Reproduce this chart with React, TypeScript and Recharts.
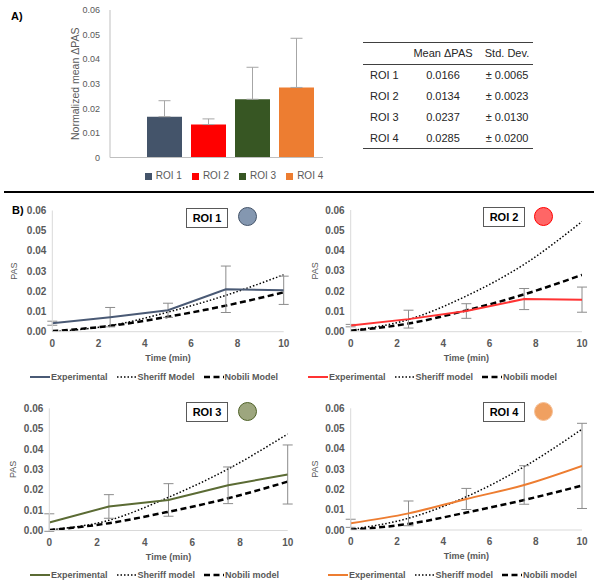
import React from 'react';
import {Bar, BarChart, ErrorBar, Legend, Line, LineChart, XAxis, YAxis} from 'recharts';

const FONT = '"Liberation Sans", Arial, sans-serif';

// panel A
const roiNames = ['ROI 1', 'ROI 2', 'ROI 3', 'ROI 4'];
const meanPas = [0.0166, 0.0134, 0.0237, 0.0285];
const stdDev = [0.0065, 0.0023, 0.0130, 0.0200];
const barTicks = [0, 0.01, 0.02, 0.03, 0.04, 0.05, 0.06];

// panel B
const times = [0, 2.5, 5, 7.5, 10];
const timeTicks = [0, 2, 4, 6, 8, 10];

const roi1Exp = [0.0042, 0.0072, 0.0106, 0.0210, 0.0205];
const roi1Err = [0.0010, 0.0048, 0.0035, 0.0115, 0.0070];
const roi1Sheriff = [0.0000, 0.0030, 0.0097, 0.0180, 0.0282];
const roi1Nobili = [0.0003, 0.0029, 0.0074, 0.0129, 0.0195];

const roi2Exp = [0.0030, 0.0062, 0.0102, 0.0161, 0.0158];
const roi2Err = [0.0006, 0.0044, 0.0036, 0.0052, 0.0062];
const roi2Sheriff = [0.0005, 0.0060, 0.0176, 0.0332, 0.0543];
const roi2Nobili = [0.0005, 0.0040, 0.0105, 0.0184, 0.0280];

const roi3Exp = [0.0039, 0.0118, 0.0150, 0.0222, 0.0275];
const roi3Err = [0.0043, 0.0058, 0.0080, 0.0090, 0.0145];
const roi3Sheriff = [0.0003, 0.0050, 0.0163, 0.0302, 0.0474];
const roi3Nobili = [0.0002, 0.0036, 0.0092, 0.0158, 0.0240];

const roi4Exp = [0.0033, 0.0082, 0.0153, 0.0222, 0.0316];
const roi4Err = [0.0020, 0.0061, 0.0052, 0.0095, 0.0210];
const roi4Sheriff = [0.0003, 0.0058, 0.0164, 0.0312, 0.0497];
const roi4Nobili = [0.0002, 0.0030, 0.0086, 0.0148, 0.0219];

const barColors = ['#44546A', '#FF0000', '#375623', '#ED7D31'];

const barRow: any = {name: ''};
roiNames.forEach((n, i) => {
	barRow['r' + i] = meanPas[i];
	barRow['e' + i] = [0, stdDev[i]];
});

const makeRows = (exp: number[], err: number[], sh: number[], nb: number[]) =>
	times.map((t, i) => ({t, exp: exp[i], err: err[i], sheriff: sh[i], nobili: nb[i]}));

const panels = [
	{
		title: 'ROI 1', rows: makeRows(roi1Exp, roi1Err, roi1Sheriff, roi1Nobili),
		color: '#4A5A75', circleFill: '#8497B0', circleStroke: '#44546A', expCurve: 'linear',
		names: ['Experimental', 'Sheriff Model', 'Nobili Model'],
		left: 0, top: 193, yw: 52.3, mr: 16.3, mt: 17.5, mb: 26.3, pas: 14, legendLeft: 30,
		box: {left: 186, top: 208}, circle: {x: 247.7, y: 217.3},
	},
	{
		title: 'ROI 2', rows: makeRows(roi2Exp, roi2Err, roi2Sheriff, roi2Nobili),
		color: '#FF3333', circleFill: '#FF6666', circleStroke: '#FF0000', expCurve: 'linear',
		names: ['Experimental', 'Sheriff model', 'Nobili model'],
		left: 300, top: 193, yw: 50.7, mr: 18, mt: 17, mb: 26.3, pas: 15, legendLeft: 8,
		box: {left: 483, top: 207}, circle: {x: 544, y: 216.7},
	},
	{
		title: 'ROI 3', rows: makeRows(roi3Exp, roi3Err, roi3Sheriff, roi3Nobili),
		color: '#5B6B34', circleFill: '#9DA67E', circleStroke: '#4F6228', expCurve: 'linear',
		names: ['Experimental', 'Sheriff model', 'Nobili model'],
		left: 0, top: 391, yw: 49.3, mr: 12.3, mt: 17.3, mb: 25.5, pas: 12.7, legendLeft: 30,
		box: {left: 186, top: 402}, circle: {x: 247.7, y: 412},
	},
	{
		title: 'ROI 4', rows: makeRows(roi4Exp, roi4Err, roi4Sheriff, roi4Nobili),
		color: '#ED7D31', circleFill: '#F0A060', circleStroke: '#F6C199', expCurve: 'monotone',
		names: ['Experimental', 'Sheriff model', 'Nobili model'],
		left: 300, top: 391, yw: 50.7, mr: 18, mt: 17.3, mb: 26, pas: 15, legendLeft: 28,
		box: {left: 483, top: 402}, circle: {x: 544.3, y: 412},
	},
];

const tickStyle = {fill: '#595959', fontSize: 10, fontWeight: 700, fontFamily: FONT};

const RoiPanel = ({p}: {p: any}) => {
	const styles: any = {
		exp: {stroke: p.color, width: 2, dash: undefined},
		sheriff: {stroke: '#000', width: 1.5, dash: '1.5 2'},
		nobili: {stroke: '#000', width: 2.5, dash: '6 3.5'},
	};
	const order = ['exp', 'sheriff', 'nobili'];
	const legendContent = (props: any) => {
		const payload = props.payload || [];
		const items = order.map((k) => payload.find((e: any) => e.dataKey === k)).filter(Boolean);
		return (
			<div style={{display: 'flex', alignItems: 'center', gap: 9, fontFamily: FONT, fontSize: 9, fontWeight: 700, color: '#595959', whiteSpace: 'nowrap'}}>
				{items.map((e: any) => {
					const s = styles[e.dataKey];
					return (
						<span key={e.dataKey} style={{display: 'flex', alignItems: 'center'}}>
							<svg width={20} height={8}>
								<line x1={0} y1={4} x2={20} y2={4} stroke={s.stroke} strokeWidth={s.width} strokeDasharray={s.dash}/>
							</svg>
							<span style={{marginLeft: 1}}>{e.value}</span>
						</span>
					);
				})}
			</div>
		);
	};
	return (
		<div style={{position: 'absolute', left: p.left, top: p.top}}>
			<LineChart width={300} height={195} data={p.rows} margin={{top: p.mt, right: p.mr, bottom: p.mb, left: 0}}>
				<XAxis dataKey="t" type="number" domain={[0, 10]} ticks={timeTicks} allowDataOverflow
				       height={30} tickLine={false} axisLine={{stroke: '#D9D9D9'}} tick={tickStyle}
				       label={{value: 'Time (min)', position: 'insideBottom', offset: 1, fill: '#595959', fontSize: 9, fontWeight: 700, fontFamily: FONT}}/>
				<YAxis type="number" domain={[0, 0.06]} ticks={barTicks} allowDataOverflow width={p.yw}
				       tickLine={false} tickMargin={0} axisLine={{stroke: '#D9D9D9'}} tick={tickStyle}
				       tickFormatter={(v: number) => v.toFixed(2)}
				       label={{value: 'PAS', angle: -90, position: 'insideLeft', offset: p.pas, fill: '#595959', fontSize: 9, fontFamily: FONT, style: {textAnchor: 'middle'}}}/>
				<Line dataKey="nobili" name={p.names[2]} type="monotone" stroke="#000" strokeWidth={2.5} strokeDasharray="6 3.5" dot={false} isAnimationActive={false}/>
				<Line dataKey="sheriff" name={p.names[1]} type="monotone" stroke="#000" strokeWidth={1.5} strokeDasharray="1.5 2" dot={false} isAnimationActive={false}/>
				<Line dataKey="exp" name={p.names[0]} type={p.expCurve} stroke={p.color} strokeWidth={2} dot={false} isAnimationActive={false}>
					<ErrorBar dataKey="err" width={5} stroke="#8C8C8C" strokeWidth={1} direction="y"/>
				</Line>
				<Legend verticalAlign="middle" align="center" layout="horizontal" content={legendContent}
				        wrapperStyle={{top: 179, left: p.legendLeft, width: 'auto'}}/>
			</LineChart>
			<div style={{
				position: 'absolute', left: p.box.left - p.left, top: p.box.top - p.top, width: 40, height: 18,
				border: '1px solid #595959', background: '#fff', fontFamily: FONT, fontSize: 11, fontWeight: 700,
				color: '#000', display: 'flex', alignItems: 'center', justifyContent: 'center',
			}}>{p.title}</div>
			<div style={{
				position: 'absolute', left: p.circle.x - p.left - 10, top: p.circle.y - p.top - 10, width: 17, height: 17,
				borderRadius: '50%', background: p.circleFill, border: `1.5px solid ${p.circleStroke}`,
			}}/>
		</div>
	);
};

const cell = {padding: 0, height: 20.8, fontSize: 11, color: '#262626'};

export default function App() {
	return (
		<div style={{position: 'absolute', left: 0, top: 0, width: 600, height: 588, background: '#fff', fontFamily: FONT}}>
			<div style={{position: 'absolute', left: 11, top: 10, fontSize: 11, fontWeight: 700}}>A)</div>
			<div style={{position: 'absolute', left: 0, top: 0}}>
				<BarChart width={340} height={190} data={[barRow]} barGap={9} margin={{top: 10, right: 17, bottom: 31.5, left: 0}}>
					<XAxis dataKey="name" height={1} tick={false} tickLine={false} axisLine={{stroke: '#BFBFBF'}} padding={{left: 28, right: 0}}/>
					<YAxis type="number" domain={[0, 0.06]} ticks={barTicks} width={110} tickLine={false} tickMargin={4}
					       axisLine={{stroke: '#BFBFBF'}} tick={{fill: '#595959', fontSize: 9, fontFamily: FONT}}
					       tickFormatter={(v: number) => (v === 0 ? '0' : v.toFixed(2))}
					       label={{value: 'Normalized mean ΔPAS', angle: -90, position: 'insideLeft', offset: 75, fill: '#595959', fontSize: 10.5, fontFamily: FONT, style: {textAnchor: 'middle'}}}/>
					{roiNames.map((n, i) => (
						<Bar key={n} dataKey={'r' + i} name={n} fill={barColors[i]} barSize={35} isAnimationActive={false}>
							<ErrorBar dataKey={'e' + i} width={6} stroke="#A6A6A6" strokeWidth={1} direction="y"/>
						</Bar>
					))}
					<Legend verticalAlign="middle" align="center" layout="horizontal" iconType="square" iconSize={7}
					        wrapperStyle={{top: 170, left: 114, width: 250, fontSize: 10, fontFamily: FONT}}
					        formatter={(v: string) => <span style={{color: '#595959'}}>{v}</span>}/>
				</BarChart>
			</div>
			<table style={{position: 'absolute', left: 363, top: 42, width: 170, borderCollapse: 'collapse', fontFamily: FONT, tableLayout: 'fixed'}}>
				<colgroup>
					<col style={{width: 42}}/>
					<col style={{width: 76}}/>
					<col style={{width: 52}}/>
				</colgroup>
				<thead>
				<tr style={{borderTop: '1.5px solid #404040', borderBottom: '1.5px solid #404040'}}>
					<th style={cell}></th>
					<th style={{...cell, fontWeight: 400, textAlign: 'center'}}>Mean ΔPAS</th>
					<th style={{...cell, fontWeight: 400, textAlign: 'center'}}>Std. Dev.</th>
				</tr>
				</thead>
				<tbody>
				{roiNames.map((n, i) => (
					<tr key={n} style={i === roiNames.length - 1 ? {borderBottom: '1.5px solid #404040'} : undefined}>
						<td style={{...cell, paddingLeft: 7}}>{n}</td>
						<td style={{...cell, textAlign: 'center'}}>{meanPas[i].toFixed(4)}</td>
						<td style={{...cell, textAlign: 'center'}}>± {stdDev[i].toFixed(4)}</td>
					</tr>
				))}
				</tbody>
			</table>
			<div style={{position: 'absolute', left: 4, top: 191, width: 590, height: 2, background: '#000'}}/>
			<div style={{position: 'absolute', left: 12, top: 204, fontSize: 11, fontWeight: 700}}>B)</div>
			{panels.map((p) => <RoiPanel key={p.title} p={p}/>)}
		</div>
	);
}
